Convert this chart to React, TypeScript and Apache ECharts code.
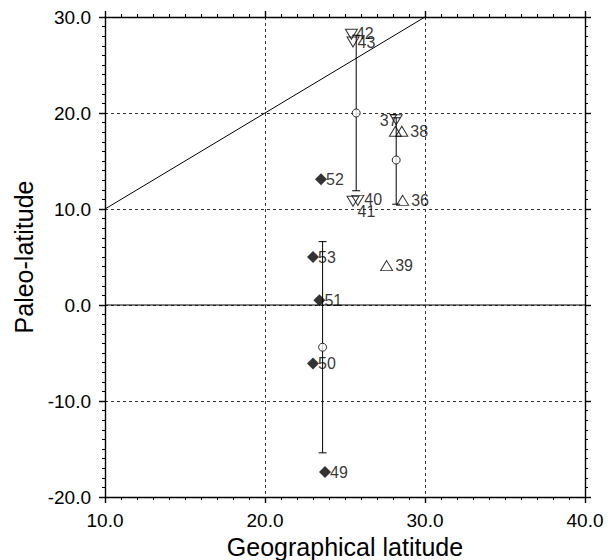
import React, { useEffect, useRef } from "react";
import * as echarts from "echarts";

// ---- data ----
const downTriIds = ["42", "43", "40", "41", "37"];
const downTriX = [25.4, 25.5, 25.8, 25.5, 28.2];
const downTriY = [28.2, 27.4, 10.9, 10.8, 19.3];

const upTriIds = ["38", "", "36", "39"];
const upTriX = [28.55, 28.15, 28.6, 27.6];
const upTriY = [18.1, 18.1, 10.9, 4.1];

const diamondIds = ["52", "53", "51", "50", "49"];
const diamondX = [23.5, 23.0, 23.4, 23.0, 23.75];
const diamondY = [13.1, 5.0, 0.5, -6.1, -17.4];

const meanX = [25.7, 28.2, 23.6];
const meanY = [20.0, 15.1, -4.4];
const meanLo = [11.9, 10.5, -15.4];
const meanHi = [28.1, 19.5, 6.6];

const refLine = [[10, 10], [30, 30]];
const zeroLine = [[10, 0], [40, 0]];

const xTicks = [10, 20, 30, 40];
const yTicks = [-20, -10, 0, 10, 20, 30];

const FONT = "'Liberation Sans', Arial, sans-serif";

export default function App() {
  const ref = useRef<HTMLDivElement>(null);
  useEffect(() => {
    if (!ref.current) return;
    const chart = echarts.init(ref.current, undefined, { renderer: "svg" });
    const axisLine = { show: true, onZero: false, lineStyle: { color: "#000", width: 1.4 } };
    const axisTick = { show: true, length: 6, lineStyle: { color: "#000", width: 1.4 } };
    const minorTick = { show: true, splitNumber: 10, length: 3, lineStyle: { color: "#000", width: 1 } };
    const split = { show: true, lineStyle: { color: "#333", width: 1, type: [3, 3] as any } };
    const xMin = xTicks[0], xMax = xTicks[xTicks.length - 1];
    const yMin = yTicks[0], yMax = yTicks[yTicks.length - 1];
    const labelStyle = { show: true, formatter: "{b}", position: "right" as const, distance: 2, fontSize: 16, color: "#000", fontFamily: FONT };

    const downData = downTriIds.map((id, i) => {
      const item: any = { name: id, value: [downTriX[i], downTriY[i]] };
      if (id === "42") item.label = { offset: [-4, -1] };
      if (id === "43") item.label = { offset: [-4, 1] };
      if (id === "40") item.label = { offset: [-2, -1] };
      if (id === "41") item.label = { offset: [-4, 10] };
      if (id === "37") item.label = { position: "left", distance: 0, offset: [8, 1] };
      return item;
    });
    const upData = upTriIds.map((id, i) => ({ name: id, value: [upTriX[i], upTriY[i]] }));
    const diaData = diamondIds.map((id, i) => ({ name: id, value: [diamondX[i], diamondY[i]] }));

    chart.setOption({
      animation: false,
      grid: { left: 105, top: 17, width: 480, height: 480, containLabel: false, outerBoundsMode: "none" },
      xAxis: [
        {
          type: "value", min: xMin, max: xMax, interval: 10, position: "bottom",
          axisLine, axisTick, minorTick, splitLine: split,
          axisLabel: { formatter: (v: number) => v.toFixed(1), fontSize: 19, color: "#000", fontFamily: FONT, margin: 14 },
          name: "Geographical latitude", nameLocation: "middle", nameGap: 34,
          nameTextStyle: { fontSize: 25, color: "#000", fontFamily: FONT },
        },
        {
          type: "value", min: xMin, max: xMax, interval: 10, position: "top",
          axisLine, axisTick, minorTick, splitLine: { show: false }, axisLabel: { show: false },
        },
      ],
      yAxis: [
        {
          type: "value", min: yMin, max: yMax, interval: 10, position: "left",
          axisLine, axisTick, minorTick, splitLine: split,
          axisLabel: { formatter: (v: number) => v.toFixed(1), fontSize: 19, color: "#000", fontFamily: FONT, margin: 14 },
          name: "Paleo-latitude", nameLocation: "middle", nameGap: 66,
          nameTextStyle: { fontSize: 25, color: "#000", fontFamily: FONT },
        },
        {
          type: "value", min: yMin, max: yMax, interval: 10, position: "right",
          axisLine, axisTick, minorTick, splitLine: { show: false }, axisLabel: { show: false },
        },
      ],
      series: [
        { type: "line", data: refLine, symbol: "none", silent: true, lineStyle: { color: "#000", width: 1 } },
        { type: "line", data: zeroLine, symbol: "none", silent: true, lineStyle: { color: "#000", width: 1.2 } },
        {
          type: "custom",
          data: meanX.map((x, i) => [x, meanLo[i], meanHi[i]]),
          renderItem: (params: any, api: any) => {
            const lo = api.coord([api.value(0), api.value(1)]);
            const hi = api.coord([api.value(0), api.value(2)]);
            const cap = 4;
            const st = { stroke: "#000", lineWidth: 1 };
            return {
              type: "group",
              children: [
                { type: "line", shape: { x1: lo[0], y1: lo[1], x2: hi[0], y2: hi[1] }, style: st },
                { type: "line", shape: { x1: lo[0] - cap, y1: lo[1], x2: lo[0] + cap, y2: lo[1] }, style: st },
                { type: "line", shape: { x1: hi[0] - cap, y1: hi[1], x2: hi[0] + cap, y2: hi[1] }, style: st },
              ],
            };
          },
        },
        {
          type: "scatter", symbol: "circle", symbolSize: 8,
          data: meanX.map((x, i) => [x, meanY[i]]),
          itemStyle: { color: "#fff", borderColor: "#000", borderWidth: 1 },
        },
        {
          type: "scatter", symbol: "triangle", symbolRotate: 180, symbolSize: [12, 10],
          data: downData,
          itemStyle: { color: "rgba(255,255,255,0)", borderColor: "#000", borderWidth: 1 },
          label: labelStyle,
        },
        {
          type: "scatter", symbol: "triangle", symbolSize: [12, 10],
          data: upData,
          itemStyle: { color: "rgba(255,255,255,0)", borderColor: "#000", borderWidth: 1 },
          label: labelStyle,
        },
        {
          type: "scatter", symbol: "diamond", symbolSize: 12,
          data: diaData,
          itemStyle: { color: "#000" },
          label: { ...labelStyle, distance: -1 },
        },
      ],
    });
    return () => chart.dispose();
  }, []);
  return <div ref={ref} style={{ position: "absolute", left: 0, top: 0, width: 613, height: 560 }} />;
}
